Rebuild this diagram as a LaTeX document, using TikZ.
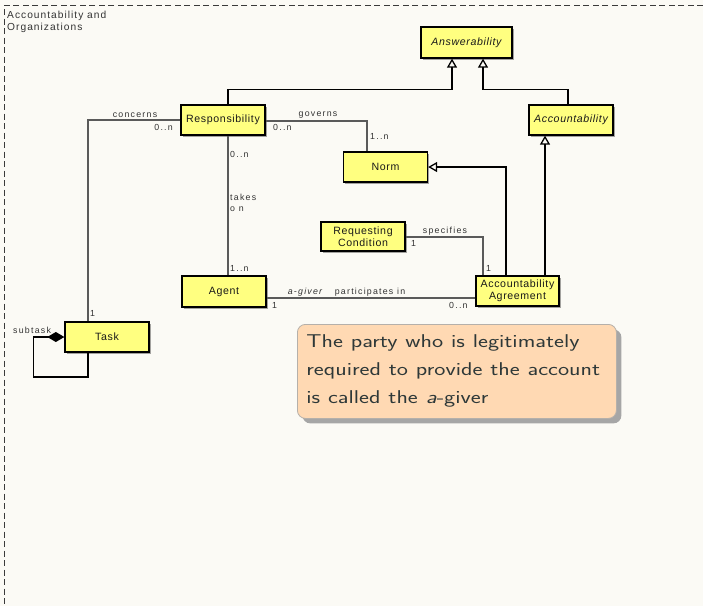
\documentclass[tikz,border=0pt]{standalone}
\usepackage{fontspec}
\newfontfamily\umlfont[LetterSpace=6]{Liberation Sans}
\newfontfamily\umltitlefont[LetterSpace=10]{Liberation Sans}
\newfontfamily\umllabelfont[LetterSpace=14]{Liberation Sans}
\usetikzlibrary{arrows.meta,shadows}

\definecolor{canvas}{HTML}{FBFAF5}
\definecolor{umlyellow}{HTML}{FFFF80}
\definecolor{notefill}{HTML}{FFD9B3}
\definecolor{noteedge}{HTML}{B5B0AA}
\definecolor{notetext}{HTML}{2E3838}
\definecolor{assocgray}{HTML}{5A5A5A}
\definecolor{labelgray}{HTML}{333333}
\definecolor{framegray}{HTML}{3A3A3A}

\tikzset{
  umlclass/.style={draw=black, line width=1.3pt, fill=umlyellow,
    minimum width=84pt, minimum height=30pt, inner sep=0pt, align=center,
    font=\umlfont\fontsize{10.6}{12}\selectfont, text=black!90,
    drop shadow={shadow xshift=1.5pt, shadow yshift=-1.5pt, fill=black, opacity=0.35}},
  abstractclass/.style={umlclass, font=\umlfont\itshape\fontsize{10.6}{12}\selectfont},
  generalization/.style={draw=black, line width=1.4pt,
    -{Triangle[open, width=10pt, length=9pt, line width=1.3pt]}},
  association/.style={draw=assocgray, line width=1.2pt},
  rolelabel/.style={inner sep=0pt, text=labelgray,
    font=\umllabelfont\fontsize{8.8}{10}\selectfont},
  notebox/.style={draw=noteedge, line width=0.8pt, fill=notefill, rounded corners=8pt,
    minimum width=319pt, minimum height=94pt, inner xsep=9pt, inner ysep=9pt,
    text=notetext, font=\sffamily\fontsize{18.5}{28}\selectfont,
    drop shadow={shadow xshift=5pt, shadow yshift=-5pt, fill=black!35, opacity=1, rounded corners=8pt}}
}

\begin{document}
\begin{tikzpicture}[x=1pt, y=-1pt]
\useasboundingbox[fill=canvas] (0,0) rectangle (703,606);

% package frame
\draw[framegray, line width=1pt, dash pattern=on 6pt off 3.5pt] (703,5) -- (4,5) -- (4,606);
\node[anchor=north west, align=left, inner sep=0pt, text=labelgray,
      font=\umltitlefont\fontsize{10.2}{12}\selectfont] (pkgtitle) at (7,10.5)
  {Accountability and\\Organizations};

% classes
\node[abstractclass, minimum width=91pt, minimum height=31pt] (answer) at (466.5,42.5) {Answerability};
\node[umlclass] (resp) at (223,120) {Responsibility};
\node[abstractclass] (account) at (571,120) {Accountability};
\node[umlclass] (norm) at (385.5,167) {Norm};
\node[umlclass, minimum height=29pt] (reqcond) at (363,236.5) {Requesting\\Condition};
\node[umlclass, minimum width=83pt] (agreement) at (517.5,291) {Accountability\\Agreement};
\node[umlclass, minimum height=31pt] (agent) at (224,291.5) {Agent};
\node[umlclass] (task) at (107,337) {Task};

% generalizations
\draw[generalization] ([xshift=5pt]resp.north) -- ++(0,-15) -| ([xshift=-14.5pt]answer.south);
\draw[generalization] ([xshift=-3pt]account.north) -- ++(0,-15) -| ([xshift=16.5pt]answer.south);
\draw[generalization] ([xshift=27.5pt]agreement.north) -- ([xshift=27.5pt]agreement.north |- account.south);
\draw[generalization] ([xshift=-11.5pt]agreement.north) |- (norm.east);

% associations
\draw[association] ([yshift=-1pt]resp.east) -| ([xshift=-18.5pt]norm.north);
\draw[association] (resp.west) -| ([xshift=-19pt]task.north);
\draw[association] ([xshift=5pt]resp.south) -- ([xshift=4pt]agent.north);
\draw[association] ([yshift=-7pt]agreement.west) -- ([yshift=-7pt]agreement.west -| agent.east);
\draw[association] ([yshift=-0.5pt]reqcond.east) -| ([xshift=-34.5pt]agreement.north);
\draw[association, draw=black, {Diamond[length=17pt, width=10pt, fill=black]}-]
  (task.west) -- ++(-31,0) -- ++(0,40) -| ([xshift=-19pt]task.south);

% role names and multiplicities
\node[rolelabel] (lconcerns) at (135,115) {concerns};
\node[rolelabel, anchor=east] (lconcernsm) at (173,127.5) {0..n};
\node[rolelabel, anchor=west] (ltaskm) at (90,313) {1};
\node[rolelabel] (lgoverns) at (318,115) {governs};
\node[rolelabel, anchor=west] (lgovernsm) at (273,127) {0..n};
\node[rolelabel, anchor=west] (lnormm) at (370,136) {1..n};
\node[rolelabel, anchor=west] (ltakesm) at (230,154) {0..n};
\node[rolelabel, anchor=west, align=left, font=\umllabelfont\fontsize{8.8}{11}\selectfont] (ltakes) at (230,202.5) {takes\\o n};
\node[rolelabel, anchor=west] (lagentm) at (230,268) {1..n};
\node[rolelabel, font=\umllabelfont\itshape\fontsize{8.8}{10}\selectfont] (lagiver) at (305,292) {a-giver};
\node[rolelabel] (lpart) at (370,292.5) {participates in};
\node[rolelabel, anchor=west] (lpartm1) at (272,305) {1};
\node[rolelabel, anchor=west] (lpartm2) at (449,305) {0..n};
\node[rolelabel] (lspec) at (445,231) {specifies};
\node[rolelabel, anchor=west] (lspecm1) at (411,243) {1};
\node[rolelabel, anchor=west] (lspecm2) at (486,268) {1};
\node[rolelabel, anchor=west] (lsubtask) at (13,330) {subtask};

% explanatory note, its type set wide
\node[notebox, anchor=north west, text width=301pt] (note) at (297,324)
  {\scalebox{1.28}[1]{\parbox[t]{235pt}{The party who is legitimately\\
   required to provide the account\\ is called the \textit{a}-giver}}};
\end{tikzpicture}
\end{document}
